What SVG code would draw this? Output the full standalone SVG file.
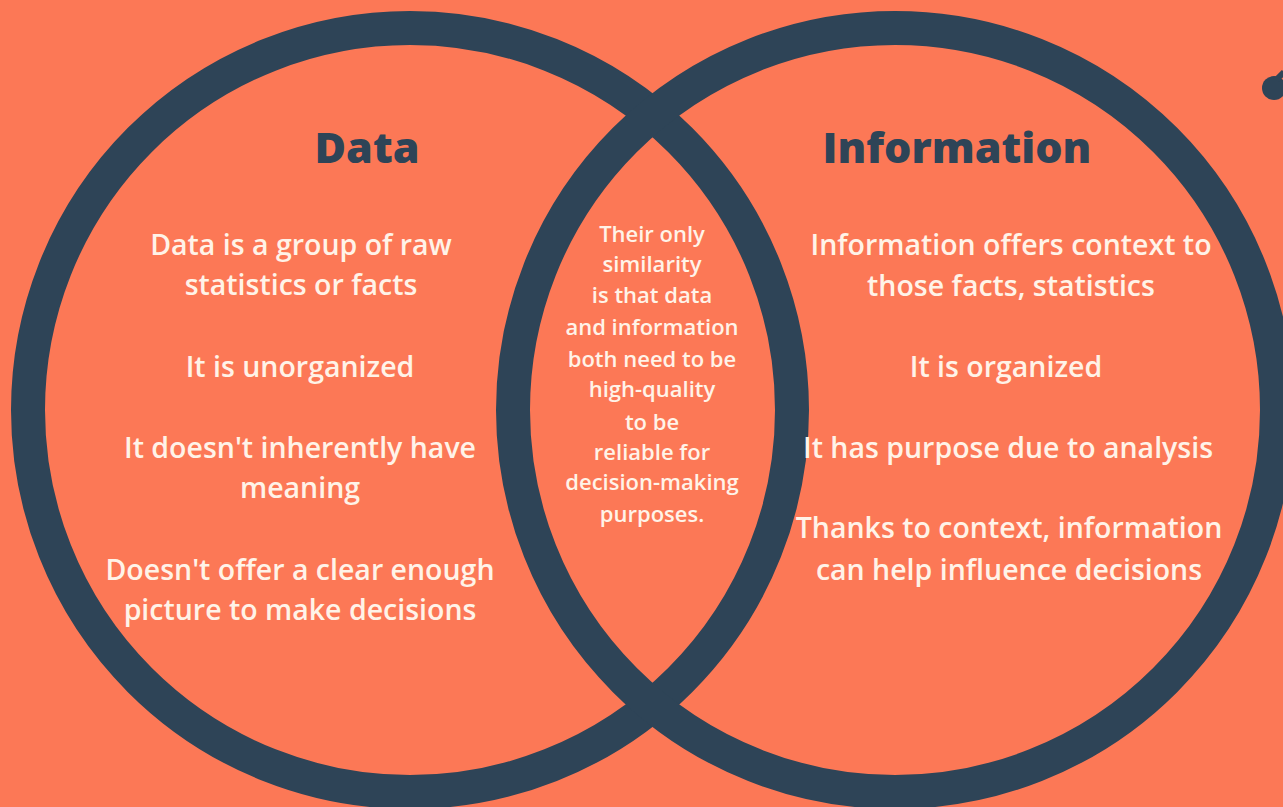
<svg xmlns="http://www.w3.org/2000/svg" width="1283" height="807" viewBox="0 0 1283 807">
  <style>
    .ring { fill: none; stroke: #2E4457; stroke-width: 34; }
    .title { font-family: "Open Sans", Lato, sans-serif; font-weight: 800; font-size: 43px; fill: #2E4457; text-anchor: middle; }
    .body { font-family: "Open Sans", Lato, sans-serif; font-weight: 600; font-size: 28.5px; fill: #FFF3E8; text-anchor: middle; }
    .mid { font-family: "Open Sans", Lato, sans-serif; font-weight: 600; font-size: 22px; fill: #FFF3E8; text-anchor: middle; }
  </style>
  <rect x="0" y="0" width="1283" height="807" fill="#FC7856"/>
  <g id="circle-data">
    <circle class="ring" cx="410" cy="410" r="382"/>
  </g>
  <g id="circle-information">
    <circle class="ring" cx="895" cy="410" r="382"/>
  </g>
  <g id="dot">
    <circle cx="1274" cy="88" r="12" fill="#2E4457"/>
    <path d="M1276 80 L1284 72" stroke="#2E4457" stroke-width="6" fill="none"/>
  </g>
  <g id="node-data">
    <text class="title" x="367" y="163">Data</text>
    <text class="body" x="301" y="255">Data is a group of raw</text>
    <text class="body" x="301" y="295">statistics or facts</text>
    <text class="body" x="300" y="377">It is unorganized</text>
    <text class="body" x="300" y="458">It doesn't inherently have</text>
    <text class="body" x="300" y="498">meaning</text>
    <text class="body" x="300" y="580">Doesn't offer a clear enough</text>
    <text class="body" x="300" y="620">picture to make decisions</text>
  </g>
  <g id="node-information">
    <text class="title" x="957" y="163">Information</text>
    <text class="body" x="1011" y="255">Information offers context to</text>
    <text class="body" x="1011" y="296">those facts, statistics</text>
    <text class="body" x="1006" y="377">It is organized</text>
    <text class="body" x="1008" y="458">It has purpose due to analysis</text>
    <text class="body" x="1009" y="538">Thanks to context, information</text>
    <text class="body" x="1009" y="580">can help influence decisions</text>
  </g>
  <g id="node-overlap">
    <text class="mid" x="652" y="242">Their only</text>
    <text class="mid" x="652" y="272">similarity</text>
    <text class="mid" x="652" y="303">is that data</text>
    <text class="mid" x="652" y="335">and information</text>
    <text class="mid" x="652" y="367">both need to be</text>
    <text class="mid" x="652" y="397">high-quality</text>
    <text class="mid" x="652" y="430">to be</text>
    <text class="mid" x="652" y="460">reliable for</text>
    <text class="mid" x="652" y="490">decision-making</text>
    <text class="mid" x="652" y="522">purposes.</text>
  </g>
  <g id="connectors"/>
</svg>
